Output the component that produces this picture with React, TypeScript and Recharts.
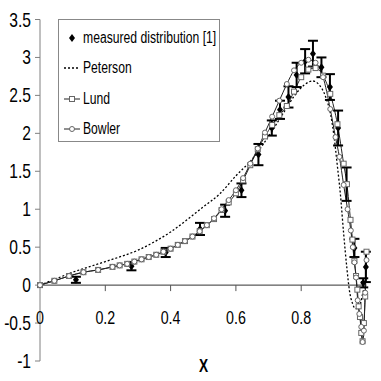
import React from 'react';
import { ComposedChart, Line, Scatter, XAxis, YAxis, ErrorBar, ReferenceLine, Legend } from 'recharts';

const FONT = "'Liberation Sans', Arial, sans-serif";

const X_TICKS = [0, 0.2, 0.4, 0.6, 0.8];
const Y_TICKS = [-1, -0.5, 0, 0.5, 1, 1.5, 2, 2.5, 3, 3.5];
const LEGEND_ORDER = ['measured distribution [1]', 'Peterson', 'Lund', 'Bowler'];

const measured = [
    { x: 0.11, y: 0.07, err: 0.04 },
    { x: 0.28, y: 0.25, err: 0.055 },
    { x: 0.385, y: 0.43, err: 0.06 },
    { x: 0.49, y: 0.74, err: 0.08 },
    { x: 0.567, y: 0.98, err: 0.08 },
    { x: 0.617, y: 1.25, err: 0.09 },
    { x: 0.669, y: 1.72, err: 0.14 },
    { x: 0.71, y: 2.07, err: 0.1 },
    { x: 0.735, y: 2.31, err: 0.12 },
    { x: 0.761, y: 2.48, err: 0.14 },
    { x: 0.786, y: 2.77, err: 0.16 },
    { x: 0.812, y: 2.95, err: 0.16 },
    { x: 0.836, y: 3.05, err: 0.17 },
    { x: 0.862, y: 2.87, err: 0.13 },
    { x: 0.888, y: 2.61, err: 0.17 },
    { x: 0.913, y: 2.07, err: 0.23 },
    { x: 0.939, y: 1.33, err: 0.22 },
    { x: 0.963, y: 0.49, err: 0.12 },
    { x: 0.99, y: 0.03, err: 0.06 },
    { x: 0.998, y: 0.24, err: 0.2 },
];

const peterson = [
    { x: 0, y: 0 }, { x: 0.05, y: 0.085 }, { x: 0.1, y: 0.17 }, { x: 0.15, y: 0.24 },
    { x: 0.2, y: 0.31 }, { x: 0.25, y: 0.38 }, { x: 0.3, y: 0.46 }, { x: 0.35, y: 0.57 },
    { x: 0.4, y: 0.7 }, { x: 0.45, y: 0.86 }, { x: 0.5, y: 1.03 }, { x: 0.55, y: 1.2 },
    { x: 0.6, y: 1.44 }, { x: 0.65, y: 1.66 }, { x: 0.7, y: 1.96 }, { x: 0.75, y: 2.3 },
    { x: 0.78, y: 2.5 }, { x: 0.81, y: 2.64 }, { x: 0.835, y: 2.69 }, { x: 0.855, y: 2.64 },
    { x: 0.875, y: 2.48 }, { x: 0.89, y: 2.25 }, { x: 0.9, y: 1.98 }, { x: 0.91, y: 1.6 },
    { x: 0.92, y: 1.2 }, { x: 0.93, y: 0.68 }, { x: 0.94, y: 0.22 }, { x: 0.948, y: -0.08 },
    { x: 0.957, y: -0.24 }, { x: 0.966, y: -0.31 }, { x: 0.975, y: -0.31 }, { x: 0.983, y: -0.22 },
    { x: 0.99, y: -0.08 }, { x: 1, y: 0 },
];

const lund = [
    { x: 0, y: 0 }, { x: 0.044, y: 0.057 }, { x: 0.089, y: 0.12 }, { x: 0.133, y: 0.17 },
    { x: 0.178, y: 0.2 }, { x: 0.222, y: 0.24 }, { x: 0.244, y: 0.26 }, { x: 0.267, y: 0.28 },
    { x: 0.289, y: 0.31 }, { x: 0.311, y: 0.34 }, { x: 0.333, y: 0.37 }, { x: 0.356, y: 0.4 },
    { x: 0.378, y: 0.44 }, { x: 0.4, y: 0.48 }, { x: 0.422, y: 0.53 }, { x: 0.444, y: 0.58 },
    { x: 0.467, y: 0.64 }, { x: 0.489, y: 0.71 }, { x: 0.511, y: 0.79 }, { x: 0.533, y: 0.87 },
    { x: 0.556, y: 0.99 }, { x: 0.578, y: 1.09 }, { x: 0.6, y: 1.21 }, { x: 0.622, y: 1.38 },
    { x: 0.644, y: 1.58 }, { x: 0.667, y: 1.79 }, { x: 0.689, y: 1.96 }, { x: 0.711, y: 2.11 },
    { x: 0.733, y: 2.24 }, { x: 0.756, y: 2.36 }, { x: 0.778, y: 2.55 }, { x: 0.8, y: 2.74 },
    { x: 0.822, y: 2.84 }, { x: 0.844, y: 2.86 }, { x: 0.867, y: 2.76 }, { x: 0.889, y: 2.52 },
    { x: 0.911, y: 2.12 }, { x: 0.93, y: 1.6 }, { x: 0.94, y: 1.33 }, { x: 0.951, y: 0.86 },
    { x: 0.957, y: 0.6 }, { x: 0.963, y: 0.32 }, { x: 0.968, y: 0.12 }, { x: 0.972, y: -0.06 },
    { x: 0.976, y: -0.28 }, { x: 0.98, y: -0.42 }, { x: 0.984, y: -0.63 }, { x: 0.988, y: -0.74 },
    { x: 0.992, y: -0.5 }, { x: 0.996, y: -0.15 }, { x: 1, y: 0.44 },
];

const bowler = [
    { x: 0, y: 0 }, { x: 0.044, y: 0.057 }, { x: 0.089, y: 0.12 }, { x: 0.133, y: 0.17 },
    { x: 0.178, y: 0.2 }, { x: 0.222, y: 0.24 }, { x: 0.244, y: 0.26 }, { x: 0.267, y: 0.28 },
    { x: 0.289, y: 0.31 }, { x: 0.311, y: 0.34 }, { x: 0.333, y: 0.37 }, { x: 0.356, y: 0.4 },
    { x: 0.378, y: 0.44 }, { x: 0.4, y: 0.48 }, { x: 0.422, y: 0.53 }, { x: 0.444, y: 0.58 },
    { x: 0.467, y: 0.64 }, { x: 0.489, y: 0.71 }, { x: 0.511, y: 0.79 }, { x: 0.533, y: 0.88 },
    { x: 0.556, y: 1.0 }, { x: 0.578, y: 1.12 }, { x: 0.6, y: 1.25 }, { x: 0.622, y: 1.41 },
    { x: 0.644, y: 1.6 }, { x: 0.667, y: 1.8 }, { x: 0.689, y: 2.01 }, { x: 0.711, y: 2.22 },
    { x: 0.733, y: 2.43 }, { x: 0.756, y: 2.65 }, { x: 0.778, y: 2.83 }, { x: 0.8, y: 2.93 },
    { x: 0.822, y: 2.97 }, { x: 0.844, y: 2.93 }, { x: 0.867, y: 2.74 }, { x: 0.889, y: 2.32 },
    { x: 0.905, y: 1.95 }, { x: 0.917, y: 1.69 }, { x: 0.93, y: 1.32 }, { x: 0.942, y: 1.0 },
    { x: 0.952, y: 0.72 }, { x: 0.958, y: 0.5 }, { x: 0.963, y: 0.3 }, { x: 0.968, y: 0.1 },
    { x: 0.973, y: -0.2 }, { x: 0.978, y: -0.38 }, { x: 0.984, y: -0.55 }, { x: 0.988, y: -0.75 },
    { x: 0.992, y: -0.6 }, { x: 0.996, y: -0.1 }, { x: 1, y: 0.33 },
];

// pixel distance between y=-1 (axis bottom) and y=0, used to hang the x ticks on the zero line
const ZERO_SHIFT = 75.9;

// no narrow font installed, so squeeze regular glyphs horizontally
function NarrowText({ x, y, size, squeeze, anchor, bold, children }: any) {
    return (
        <text
            transform={`translate(${x},${y}) scale(${squeeze},1)`}
            textAnchor={anchor}
            fontSize={size}
            fontFamily={FONT}
            fontWeight={bold ? 'bold' : 'normal'}
            fill="#000"
        >
            {children}
        </text>
    );
}

function XTick(props: any) {
    const { x, y, payload } = props;
    const y0 = y - ZERO_SHIFT;
    return (
        <g>
            {payload.value !== 0 && <line x1={x} x2={x} y1={y0} y2={y0 + 6} stroke="#555" />}
            <NarrowText x={x} y={y0 + 39} size={18.5} squeeze={0.77} anchor="middle">
                {payload.value}
            </NarrowText>
            {payload.value === 0.4 && (
                <NarrowText x={x + 33} y={y0 + 87} size={19} squeeze={0.72} anchor="middle" bold>
                    X
                </NarrowText>
            )}
        </g>
    );
}

function YTick(props: any) {
    const { x, y, payload } = props;
    return (
        <NarrowText x={x} y={y + 7} size={20} squeeze={0.78} anchor="end">
            {payload.value}
        </NarrowText>
    );
}

function SquareDot(props: any) {
    const { cx, cy } = props;
    if (cx == null || cy == null) return null;
    return <rect x={cx - 2.5} y={cy - 2.5} width={5} height={5} fill="#fff" stroke="#666" strokeWidth={1} />;
}

function CircleDot(props: any) {
    const { cx, cy } = props;
    if (cx == null || cy == null) return null;
    return <circle cx={cx} cy={cy} r={2.5} fill="#fff" stroke="#666" strokeWidth={1} />;
}

function Diamond(props: any) {
    const { cx, cy } = props;
    return <path d={`M${cx},${cy - 4}L${cx + 3},${cy}L${cx},${cy + 4}L${cx - 3},${cy}Z`} fill="#000" />;
}

function LegendIcon({ name }: { name: string }) {
    return (
        <svg width={18} height={12} style={{ marginRight: 2, flex: 'none' }}>
            {name === 'measured distribution [1]' && <path d="M9,2L12,6L9,10L6,6Z" fill="#000" />}
            {name === 'Peterson' && <line x1={1} x2={17} y1={6} y2={6} stroke="#000" strokeWidth={1.3} strokeDasharray="2 2" />}
            {name === 'Lund' && (
                <g>
                    <line x1={1} x2={17} y1={6} y2={6} stroke="#222" />
                    <rect x={6.5} y={3.5} width={5} height={5} fill="#fff" stroke="#666" />
                </g>
            )}
            {name === 'Bowler' && (
                <g>
                    <line x1={1} x2={17} y1={6} y2={6} stroke="#222" />
                    <circle cx={9} cy={6} r={2.5} fill="#fff" stroke="#666" />
                </g>
            )}
        </svg>
    );
}

function LegendBox(props: any) {
    const items = [...(props.payload || [])].sort(
        (a: any, b: any) => LEGEND_ORDER.indexOf(a.value) - LEGEND_ORDER.indexOf(b.value)
    );
    return (
        <div style={{ border: '1px solid #888', width: 162, height: 123, boxSizing: 'border-box', paddingTop: 3, background: '#fff' }}>
            {items.map((it: any) => (
                <div key={it.value} style={{ display: 'flex', alignItems: 'center', height: 30.3, paddingLeft: 4, fontFamily: FONT, fontSize: 16, color: '#000', whiteSpace: 'nowrap' }}>
                    <LegendIcon name={it.value} />
                    <span style={{ display: 'inline-block', transform: 'scaleX(0.76)', transformOrigin: 'left center' }}>{it.value}</span>
                </div>
            ))}
        </div>
    );
}

export default function App() {
    return (
        <div style={{ position: 'absolute', left: 0, top: 0, background: '#fff' }}>
            <ComposedChart width={381} height={381} margin={{ top: 19.5, right: 14.5, left: 0, bottom: 0 }}>
                <XAxis
                    type="number"
                    dataKey="x"
                    domain={[0, 1]}
                    ticks={X_TICKS}
                    axisLine={false}
                    tickLine={false}
                    tickSize={0}
                    tickMargin={0}
                    height={20}
                    tick={<XTick />}
                />
                <YAxis
                    type="number"
                    dataKey="y"
                    domain={[-1, 3.5]}
                    ticks={Y_TICKS}
                    width={40}
                    tickSize={5}
                    tickMargin={4}
                    axisLine={{ stroke: '#808080' }}
                    tickLine={{ stroke: '#808080' }}
                    tick={<YTick />}
                />
                <ReferenceLine y={0} stroke="#333" strokeWidth={1} />
                <Legend
                    layout="vertical"
                    align="center"
                    verticalAlign="middle"
                    wrapperStyle={{ left: 58, top: 19, width: 162, height: 123 }}
                    content={<LegendBox />}
                />
                <Line
                    name="Peterson"
                    data={peterson}
                    dataKey="y"
                    type="monotone"
                    stroke="#000"
                    strokeWidth={1.3}
                    strokeDasharray="2 2"
                    dot={false}
                    isAnimationActive={false}
                />
                <Line
                    name="Lund"
                    data={lund}
                    dataKey="y"
                    type="monotone"
                    stroke="#222"
                    strokeWidth={1}
                    dot={<SquareDot />}
                    isAnimationActive={false}
                />
                <Line
                    name="Bowler"
                    data={bowler}
                    dataKey="y"
                    type="monotone"
                    stroke="#222"
                    strokeWidth={1}
                    dot={<CircleDot />}
                    isAnimationActive={false}
                />
                <Scatter
                    name="measured distribution [1]"
                    data={measured}
                    dataKey="y"
                    fill="#000"
                    shape={<Diamond />}
                    isAnimationActive={false}
                >
                    <ErrorBar dataKey="err" direction="y" width={5} strokeWidth={2} stroke="#000" />
                </Scatter>
            </ComposedChart>
        </div>
    );
}
